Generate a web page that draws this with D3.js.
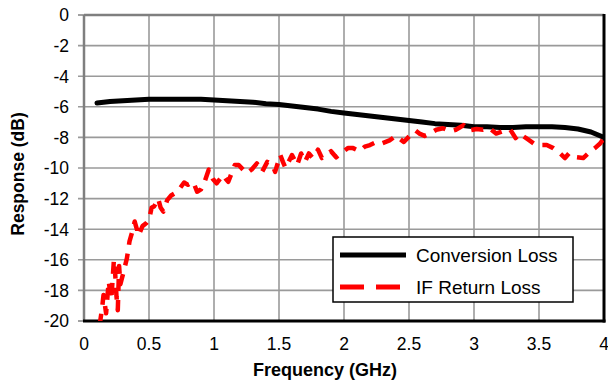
<!DOCTYPE html>
<html>
<head>
<meta charset="utf-8">
<script src="https://cdn.jsdelivr.net/npm/d3@7"></script>
<style>
  body { margin: 0; background: #fff; }
  svg text { font-family: "Liberation Sans", Arial, sans-serif; }
</style>
</head>
<body>
<div id="chart"></div>
<script>
// Chart values
const xTicks = [0, 0.5, 1, 1.5, 2, 2.5, 3, 3.5, 4];
const yTicks = [0, -2, -4, -6, -8, -10, -12, -14, -16, -18, -20];
const seriesNames = ["Conversion Loss", "IF Return Loss"];

// Conversion loss (GHz, dB)
const convFreq = [0.1, 0.2, 0.3, 0.4, 0.5, 0.6, 0.7, 0.8, 0.9, 1.0, 1.1, 1.2, 1.3, 1.4, 1.5, 1.6, 1.7, 1.8, 1.9, 2.0,
                  2.1, 2.2, 2.3, 2.4, 2.5, 2.6, 2.7, 2.8, 2.9, 3.0, 3.1, 3.2, 3.3, 3.4, 3.5, 3.6, 3.7, 3.8, 3.9, 4.0];
const convLoss = [-5.75, -5.65, -5.6, -5.55, -5.5, -5.5, -5.5, -5.5, -5.5, -5.55, -5.6, -5.65, -5.7, -5.8, -5.85, -5.95, -6.05, -6.15, -6.3, -6.4,
                  -6.5, -6.6, -6.7, -6.8, -6.9, -7.0, -7.1, -7.15, -7.2, -7.3, -7.3, -7.35, -7.35, -7.3, -7.3, -7.3, -7.35, -7.45, -7.65, -8.0];

// IF return loss (GHz, dB)
const ifFreq = [0.12, 0.14, 0.15, 0.17, 0.19, 0.21, 0.23, 0.24, 0.25, 0.26, 0.27, 0.28, 0.31, 0.33, 0.35, 0.37, 0.39, 0.42, 0.45, 0.48,
                0.50, 0.52, 0.54, 0.57, 0.59, 0.61, 0.64, 0.67, 0.70, 0.74, 0.77, 0.80, 0.84, 0.87, 0.90, 0.92, 0.96, 0.99, 1.02, 1.07,
                1.09, 1.11, 1.16, 1.19, 1.25, 1.29, 1.33, 1.37, 1.41, 1.45, 1.47, 1.51, 1.53, 1.55, 1.60, 1.64, 1.67, 1.70, 1.73, 1.76,
                1.80, 1.83, 1.87, 1.90, 1.94, 1.99, 2.03, 2.07, 2.12, 2.16, 2.20, 2.25, 2.29, 2.35, 2.40, 2.46, 2.51, 2.55, 2.58, 2.62,
                2.66, 2.71, 2.76, 2.82, 2.86, 2.89, 2.92, 2.96, 3.02, 3.07, 3.12, 3.17, 3.22, 3.28, 3.32, 3.35, 3.41, 3.46, 3.51, 3.56,
                3.61, 3.65, 3.70, 3.73, 3.79, 3.84, 3.89, 3.93, 3.97, 4.00];
const ifLoss = [-20.3, -19.1, -18.3, -19.5, -17.4, -18.6, -16.0, -16.9, -18.4, -19.3, -16.4, -17.6, -16.6, -15.9, -14.8, -14.2, -13.5, -14.4, -13.8, -13.6,
                -13.4, -12.6, -12.5, -12.0, -12.6, -12.85, -12.1, -11.8, -11.65, -11.3, -10.95, -11.1, -10.9, -11.55, -11.4, -11.1, -10.1, -10.7, -11.0, -10.45,
                -10.7, -10.9, -9.8, -9.8, -10.35, -10.1, -9.7, -10.25, -9.6, -9.8, -10.25, -9.15, -9.6, -10.0, -9.15, -9.8, -9.05, -9.6, -9.05, -9.35,
                -8.8, -9.35, -9.1, -8.9, -9.3, -8.95, -8.7, -8.7, -8.9, -8.6, -8.5, -8.3, -8.4, -8.2, -7.9, -8.3, -7.85, -7.55, -7.75, -7.9,
                -7.75, -7.5, -7.4, -7.6, -7.5, -7.35, -7.2, -7.55, -7.45, -7.5, -7.4, -7.75, -7.6, -7.5, -8.05, -7.75, -8.1, -8.4, -8.5, -8.5,
                -8.7, -8.95, -9.35, -9.05, -9.3, -9.35, -8.95, -8.7, -8.4, -8.05];

const margin = { top: 15, right: 4, bottom: 65, left: 84 };
const width = 608 - margin.left - margin.right;
const height = 386 - margin.top - margin.bottom;

const svg = d3.select('#chart')
    .append('svg')
    .attr('width', 608)
    .attr('height', 386)
    .append('g')
    .attr('transform', `translate(${margin.left},${margin.top})`);

const x = d3.scaleLinear().domain([0, 4]).range([0, width]);
const y = d3.scaleLinear().domain([-20, 0]).range([height, 0]);

svg.append('clipPath').attr('id', 'plotClip')
    .append('rect').attr('width', width).attr('height', height);

// grid
svg.append('g')
    .selectAll('line')
    .data(xTicks.slice(1, -1))
    .enter().append('line')
    .attr('x1', d => x(d)).attr('x2', d => x(d))
    .attr('y1', 0).attr('y2', height)
    .attr('stroke', '#9a9a9a').attr('stroke-width', 1.6);

svg.append('g')
    .selectAll('line')
    .data(yTicks.slice(1, -1))
    .enter().append('line')
    .attr('x1', -6).attr('x2', width)
    .attr('y1', d => y(d)).attr('y2', d => y(d))
    .attr('stroke', '#9a9a9a').attr('stroke-width', 1.6);

// y tick at top and bottom
svg.append('g')
    .selectAll('line')
    .data([0, -20])
    .enter().append('line')
    .attr('x1', -6).attr('x2', 0)
    .attr('y1', d => y(d)).attr('y2', d => y(d))
    .attr('stroke', '#8a8a8a').attr('stroke-width', 1.6);

// frame: gray top/left, black right/bottom
svg.append('line').attr('x1', 0).attr('x2', width).attr('y1', 0).attr('y2', 0)
    .attr('stroke', '#7f7f7f').attr('stroke-width', 2.5);
svg.append('line').attr('x1', 0).attr('x2', 0).attr('y1', 0).attr('y2', height)
    .attr('stroke', '#7f7f7f').attr('stroke-width', 2.5);
svg.append('line').attr('x1', width).attr('x2', width).attr('y1', -1).attr('y2', height + 1.5)
    .attr('stroke', '#000').attr('stroke-width', 3);
svg.append('line').attr('x1', -1).attr('x2', width + 1.5).attr('y1', height).attr('y2', height)
    .attr('stroke', '#000').attr('stroke-width', 3);

// tick labels
svg.append('g')
    .selectAll('text')
    .data(yTicks)
    .enter().append('text')
    .attr('x', -15)
    .attr('y', d => y(d))
    .attr('dy', '0.36em')
    .attr('text-anchor', 'end')
    .style('font-size', '17.5px')
    .text(d => d);

svg.append('g')
    .selectAll('text')
    .data(xTicks)
    .enter().append('text')
    .attr('x', d => x(d))
    .attr('y', height + 29)
    .attr('text-anchor', 'middle')
    .style('font-size', '17.5px')
    .text(d => d);

// axis titles
svg.append('text')
    .attr('x', width / 2 - 19)
    .attr('y', height + 55)
    .attr('text-anchor', 'middle')
    .style('font-size', '18px')
    .style('font-weight', 'bold')
    .text('Frequency (GHz)');

svg.append('text')
    .attr('transform', 'rotate(-90)')
    .attr('x', -159)
    .attr('y', -60)
    .attr('text-anchor', 'middle')
    .style('font-size', '17.5px')
    .style('font-weight', 'bold')
    .text('Response (dB)');

// lines
const convData = convFreq.map((f, i) => ({ f: f, v: convLoss[i] }));
const ifData = ifFreq.map((f, i) => ({ f: f, v: ifLoss[i] }));

const line = d3.line().x(d => x(d.f)).y(d => y(d.v));

const plot = svg.append('g').attr('clip-path', 'url(#plotClip)');

plot.append('path')
    .datum(convData)
    .attr('fill', 'none')
    .attr('stroke', '#000')
    .attr('stroke-width', 5)
    .attr('stroke-linejoin', 'round')
    .attr('stroke-linecap', 'round')
    .attr('d', line);

plot.append('path')
    .datum(ifData)
    .attr('fill', 'none')
    .attr('stroke', '#ff0000')
    .attr('stroke-width', 4.5)
    .attr('stroke-linejoin', 'round')
    .attr('stroke-dasharray', '12,9')
    .attr('d', line);

// legend
const legend = svg.append('g').attr('transform', `translate(${333 - margin.left},${237 - margin.top})`);
legend.append('rect')
    .attr('width', 240).attr('height', 65)
    .attr('fill', '#fff')
    .attr('stroke', '#000').attr('stroke-width', 1.5);

const legendStyles = [
    { color: '#000', dash: null, width: 5 },
    { color: '#ff0000', dash: '24,12', width: 5 },
];
seriesNames.forEach((name, i) => {
    const ly = 18 + i * 32;
    legend.append('line')
        .attr('x1', 7).attr('x2', 73)
        .attr('y1', ly).attr('y2', ly)
        .attr('stroke', legendStyles[i].color)
        .attr('stroke-width', legendStyles[i].width)
        .attr('stroke-dasharray', legendStyles[i].dash);
    legend.append('text')
        .attr('x', 83)
        .attr('y', ly)
        .attr('dy', '0.36em')
        .style('font-size', '19px')
        .text(name);
});
</script>
</body>
</html>
